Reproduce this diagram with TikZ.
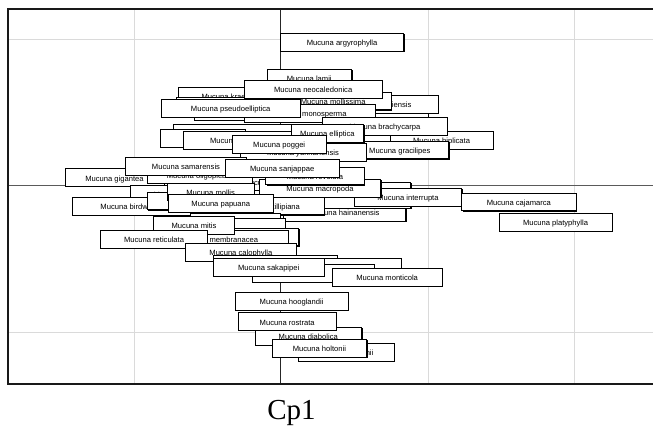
\documentclass[tikz,border=0pt]{standalone}
\usepackage{fontspec}
\usetikzlibrary{shadows}
\newfontfamily\labfont{Liberation Sans}
\newfontfamily\cpfont{Liberation Serif}
\definecolor{gridgray}{HTML}{DADADA}
\definecolor{axisgray}{HTML}{5A5A5A}
\tikzset{
  lbl/.style={anchor=north west, rectangle, draw=black, line width=0.6pt, fill=white,
    minimum height=17.8pt, inner sep=0pt, text height=7pt, text depth=0pt,
    drop shadow={shadow xshift=0.9pt, shadow yshift=-0.9pt, opacity=1, fill=black},
    font=\labfont\fontsize{7.6}{8}\selectfont},
  gridline/.style={gridgray, line width=0.9pt},
  axisline/.style={axisgray, line width=0.9pt},
  frameline/.style={black!90, line width=2pt}
}
% \lab{name}{x left}{y top}{x right}{text}
\newcommand\lab[5]{\pgfmathsetmacro\labw{#4-#2}\node[lbl, minimum width=\labw pt] (#1) at (#2,#3) {#5};}
\begin{document}
\begin{tikzpicture}[x=1pt, y=-1pt]
\useasboundingbox (0,0) rectangle (653,430);
% plot corners
\coordinate (tl) at (7.5,9.5);
\coordinate (tr) at (653,9.5);
\coordinate (bl) at (7.5,383.5);
\coordinate (br) at (653,383.5);
% grid
\foreach \gx [count=\i] in {134,428,574.5} {
  \coordinate (gt\i) at (\gx,9.5);
  \coordinate (gb\i) at (\gx,383.5);
  \draw[gridline] (gt\i) -- (gb\i);
}
\foreach \gy [count=\i] in {39,332.3} {
  \coordinate (gl\i) at (7.5,\gy);
  \coordinate (gr\i) at (653,\gy);
  \draw[gridline] (gl\i) -- (gr\i);
}
% axes through the origin
\coordinate (ax1) at (7.5,185.3);
\coordinate (ax2) at (653,185.3);
\coordinate (ay1) at (280.5,9.5);
\coordinate (ay2) at (280.5,383.5);
\draw[axisline] (ax1) -- (ax2);
\draw[black!85, line width=0.9pt] (ay1) -- (ay2);

% labels, back to front
\lab{lamii}{266.7}{69.3}{351.3}{Mucuna lamii}
\lab{kraetkei}{178.3}{87.3}{280}{Mucuna kraetkei}
\lab{h1}{176}{96.7}{270}{}
\lab{h2}{194}{102.5}{300}{}
\lab{h3}{340}{99.5}{427.5}{}
\lab{fijiensis}{330}{95}{438}{Mucuna fijiensis}
\lab{mollissima}{275}{91.7}{390.8}{Mucuna mollissima}
\lab{monosperma}{244}{104.3}{375}{Mucuna monosperma}
\lab{neocaledonica}{243.8}{80}{382}{Mucuna neocaledonica}
\lab{pseudoelliptica}{160.8}{99}{300}{Mucuna pseudoelliptica}
\lab{biplicata}{390}{131}{492.5}{Mucuna biplicata}
\lab{brachycarpa}{322}{117.3}{447}{Mucuna brachycarpa}
\lab{h4}{173}{124.3}{300}{}
\lab{h5}{160}{129.3}{245}{}
\lab{bracteata}{183.3}{131}{297}{Mucuna bracteata}
\lab{gracilipes}{350.7}{140.7}{448.3}{Mucuna gracilipes}
\lab{yunnanensis}{239.6}{143.3}{365.8}{Mucuna yunnanensis}
\lab{elliptica}{291}{124.3}{363.3}{Mucuna elliptica}
\lab{poggei}{232}{135}{325.8}{Mucuna poggei}
\lab{gigantea}{64.6}{168.5}{163.7}{Mucuna gigantea}
\lab{pruriens}{225}{172.5}{318}{Mucuna pruriens}
\lab{oligoplebia}{146.7}{165.5}{252}{Mucuna oligoplebia}
\lab{samarensis}{125.4}{157.3}{246}{Mucuna samarensis}
\lab{h6}{283.3}{181.7}{407}{}
\lab{h7}{300}{181.7}{410.4}{}
\lab{hainanensis}{283.3}{203.3}{405.4}{Mucuna hainanensis}
\lab{h8}{283.3}{190.5}{410.4}{}
\lab{interrupta}{354}{188.3}{461.3}{Mucuna interrupta}
\lab{macropoda}{259}{179}{380.4}{Mucuna macropoda}
\lab{revoluta}{265.4}{166.7}{363.8}{Mucuna revoluta}
\lab{sanjappae}{225}{159.3}{338.8}{Mucuna sanjappae}
\lab{cajamarca}{461.3}{192.7}{575.8}{Mucuna cajamarca}
\lab{platyphylla}{498.8}{213.3}{611.7}{Mucuna platyphylla}
\lab{sloanei}{130}{185.3}{230}{Mucuna sloanei}
\lab{birdwoodiana}{71.7}{197}{203}{Mucuna birdwoodiana}
\lab{h9}{146.7}{191.7}{240}{}
\lab{mollis}{167}{182.7}{253.8}{Mucuna mollis}
\lab{killipiana}{217}{196.7}{324}{Mucuna killipiana}
\lab{papuana}{168}{194.3}{273}{Mucuna papuana}
\lab{h10}{190}{213.5}{280}{}
\lab{h11}{195}{218}{285}{}
\lab{h12}{200}{227.7}{298.3}{}
\lab{membranacea}{150.5}{230}{287.5}{Mucuna membranacea}
\lab{mitis}{153.3}{216}{234.2}{Mucuna mitis}
\lab{reticulata}{100.4}{230}{207}{Mucuna reticulata}
\lab{calophylla}{185.4}{243.2}{295.8}{Mucuna calophylla}
\lab{h13}{213}{255.5}{337}{}
\lab{h14}{290}{257.7}{401}{}
\lab{h15}{252}{263.8}{374}{}
\lab{sakapipei}{213}{258.3}{323.8}{Mucuna sakapipei}
\lab{monticola}{332}{268.3}{441.7}{Mucuna monticola}
\lab{hooglandii}{234.6}{292}{348}{Mucuna hooglandii}
\lab{diabolica}{254.6}{326.7}{361.3}{Mucuna diabolica}
\lab{rostrata}{238}{312.3}{335.8}{Mucuna rostrata}
\lab{curranii}{298.3}{342.7}{393.8}{Mucuna curranii}
\lab{holtonii}{272}{339}{366.3}{Mucuna holtonii}
\lab{argyrophylla}{280.4}{33.3}{403.3}{Mucuna argyrophylla}

% frame
\draw[frameline] (tr) -- (tl) -- (bl) -- (br);
% axis title
\node[font=\cpfont\fontsize{29}{32}\selectfont] (cp1) at (291.5,412.5) {Cp1};
\end{tikzpicture}
\end{document}
